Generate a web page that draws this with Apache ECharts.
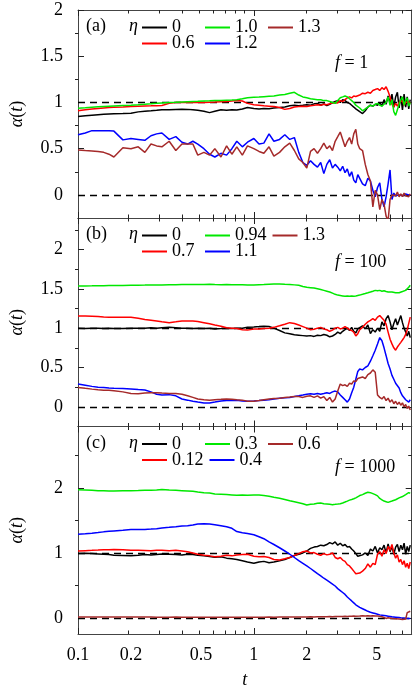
<!DOCTYPE html>
<html><head><meta charset="utf-8">
<script src="https://cdn.jsdelivr.net/npm/echarts@6/dist/echarts.min.js"></script>
<style>html,body{margin:0;padding:0;background:#fff}#c{width:415px;height:691px}</style>
</head><body><div id="c"></div>
<script>
// ---------- data ----------
const t = [
0.1,0.11,0.12,0.13,0.14,0.15,0.16,0.18,0.2,0.22,
0.24,0.26,0.28,0.3,0.33,0.36,0.39,0.42,0.45,0.48,
0.52,0.56,0.6,0.65,0.7,0.75,0.8,0.86,0.92,1.0,
1.07,1.14,1.22,1.3,1.4,1.5,1.6,1.7,1.8,1.9,
2.0,2.1,2.2,2.3,2.4,2.5,2.6,2.7,2.8,2.9,
3.0,3.1,3.2,3.3,3.4,3.5,3.6,3.7,3.8,3.9,
4.0,4.15,4.3,4.45,4.6,4.75,4.9,5.05,5.2,5.35,
5.5,5.65,5.8,5.95,6.1,6.25,6.4,6.55,6.7,6.85,
7.0,7.15,7.3,7.45,7.6,7.75];

const etaA = ['0','0.6','1.0','1.2','1.3'];
const etaB = ['0','0.7','0.94','1.1','1.3'];
const etaC = ['0','0.12','0.3','0.4','0.6'];

// panel (a), f = 1
const a_0 = [
0.847,0.855,0.862,0.868,0.873,0.876,0.878,0.88,0.883,0.898,
0.905,0.91,0.915,0.92,0.922,0.925,0.927,0.925,0.92,0.915,
0.905,0.89,0.905,0.92,0.915,0.92,0.918,0.93,0.945,0.935,
0.93,0.935,0.932,0.94,0.945,0.95,0.965,0.97,0.965,0.97,
0.975,0.97,0.985,0.99,0.97,0.985,0.965,0.98,0.995,1.01,
1.02,1.0,1.03,1.02,1.0,0.99,0.97,0.95,0.93,0.91,
0.9,0.88,0.91,0.95,0.97,0.96,0.98,0.97,1.0,0.96,
1.03,0.98,1.07,1.0,1.09,0.95,1.06,1.11,0.94,1.07,
0.92,1.09,0.95,1.06,0.93,1.03];
const a_06 = [
0.91,0.92,0.928,0.935,0.94,0.944,0.947,0.95,0.955,0.958,
0.961,0.963,0.965,0.966,0.99,1.0,1.0,1.0,1.0,1.002,
1.0,1.003,1.005,1.008,1.01,1.015,1.02,1.015,0.99,0.975,
0.97,0.965,0.96,0.955,0.945,0.925,0.935,0.95,0.955,0.96,
0.955,0.965,0.97,0.975,0.97,0.98,0.975,0.985,0.995,1.0,
0.995,1.02,1.01,1.03,1.05,1.06,1.05,1.07,1.065,1.06,
1.08,1.1,1.095,1.11,1.1,1.13,1.14,1.15,1.13,1.16,
1.14,1.17,1.12,1.06,0.98,0.95,0.99,0.96,1.0,0.98,
1.02,0.97,1.0,0.98,1.01,0.99];
const a_10 = [
0.937,0.942,0.948,0.953,0.957,0.96,0.962,0.966,0.97,0.975,
0.98,0.985,0.99,0.995,1.0,1.002,1.005,1.008,1.01,1.012,
1.015,1.017,1.02,1.022,1.025,1.027,1.03,1.04,1.05,1.056,
1.058,1.062,1.066,1.07,1.08,1.085,1.1,1.11,1.08,1.06,
1.05,1.04,1.035,1.03,1.03,1.02,1.02,1.01,1.0,0.99,
1.02,1.05,1.06,1.07,1.06,1.04,1.02,1.0,0.97,0.95,
0.94,0.91,0.93,0.95,0.97,0.96,0.98,0.99,0.97,0.96,
0.98,1.0,1.06,0.97,1.03,0.9,0.86,0.92,0.98,1.03,
1.06,0.97,1.02,1.05,0.96,1.0];
const a_12 = [
0.65,0.67,0.695,0.695,0.695,0.695,0.69,0.595,0.61,0.6,
0.59,0.64,0.66,0.67,0.6,0.63,0.57,0.55,0.58,0.55,
0.5,0.44,0.41,0.45,0.43,0.5,0.58,0.52,0.57,0.61,
0.55,0.56,0.66,0.58,0.6,0.65,0.6,0.62,0.46,0.35,
0.32,0.37,0.33,0.3,0.35,0.23,0.33,0.38,0.29,0.33,
0.3,0.26,0.31,0.24,0.28,0.2,0.25,0.16,0.13,0.22,
0.24,0.12,0.1,0.18,0.15,0.05,-0.02,0.08,0.13,-0.05,
-0.13,-0.02,0.12,0.27,-0.05,0.02,-0.01,0.01,0.0,0.01,
-0.01,0.0,0.01,-0.01,0.0,0.0];
const a_13 = [
0.486,0.48,0.475,0.47,0.46,0.44,0.41,0.51,0.5,0.52,
0.46,0.55,0.53,0.52,0.58,0.48,0.55,0.55,0.55,0.43,
0.46,0.43,0.5,0.41,0.53,0.44,0.52,0.43,0.53,0.5,
0.47,0.45,0.52,0.42,0.46,0.52,0.56,0.48,0.39,0.35,
0.29,0.47,0.5,0.45,0.5,0.56,0.5,0.53,0.48,0.58,
0.63,0.68,0.6,0.52,0.58,0.62,0.55,0.66,0.71,0.55,
0.5,0.48,0.33,0.22,0.15,-0.13,0.05,0.0,-0.16,-0.05,
-0.1,-0.23,-0.28,-0.05,0.0,0.02,-0.01,0.03,-0.02,0.01,
-0.02,0.02,-0.01,0.01,-0.02,0.01];

// panel (b), f = 100
const b_0 = [
1.0,0.995,1.0,0.998,0.995,1.0,0.997,0.995,1.0,0.998,
1.0,1.005,1.0,1.005,1.01,1.005,1.0,1.0,0.995,1.0,
0.995,1.0,0.99,0.995,1.0,0.995,1.0,1.0,1.01,1.015,
1.02,1.025,1.02,1.0,0.97,0.94,0.93,0.915,0.91,0.905,
0.9,0.905,0.895,0.91,0.905,0.92,0.91,0.89,0.9,0.92,
0.95,0.93,0.96,0.98,1.0,0.97,1.01,0.96,0.94,0.99,
1.0,1.03,0.99,1.04,0.93,0.98,0.95,1.0,0.96,1.08,
1.03,1.12,1.16,1.08,0.98,1.06,1.12,1.04,1.1,1.16,
1.07,1.0,0.95,0.9,0.96,0.88];
const b_07 = [
1.155,1.153,1.15,1.147,1.143,1.14,1.14,1.14,1.138,1.125,
1.11,1.1,1.09,1.08,1.07,1.08,1.09,1.09,1.09,1.085,
1.07,1.055,1.04,1.025,1.005,1.0,0.995,0.98,0.975,0.99,
0.99,0.995,1.0,1.01,1.03,1.05,1.07,1.06,1.04,1.02,
1.0,0.98,0.985,1.0,1.01,0.99,0.98,0.96,0.975,1.0,
1.01,0.99,1.0,1.02,1.0,0.98,0.97,0.95,0.9,0.93,
0.98,1.01,1.05,1.08,1.1,1.12,1.1,1.14,1.16,1.13,
1.1,1.05,0.95,0.86,0.8,0.75,0.72,0.76,0.79,0.82,
0.85,0.88,0.92,0.98,1.06,1.14];
const b_094 = [
1.536,1.537,1.538,1.54,1.54,1.541,1.542,1.543,1.545,1.546,
1.547,1.548,1.55,1.55,1.552,1.553,1.555,1.556,1.556,1.555,
1.556,1.557,1.555,1.553,1.554,1.552,1.553,1.552,1.55,1.55,
1.553,1.555,1.558,1.56,1.562,1.558,1.555,1.55,1.545,1.53,
1.52,1.515,1.51,1.5,1.49,1.48,1.47,1.46,1.445,1.43,
1.42,1.415,1.41,1.405,1.41,1.405,1.41,1.405,1.41,1.415,
1.42,1.43,1.44,1.45,1.46,1.47,1.48,1.475,1.48,1.47,
1.475,1.465,1.46,1.47,1.46,1.455,1.45,1.455,1.45,1.46,
1.465,1.47,1.48,1.5,1.52,1.545];
const b_11 = [
0.29,0.275,0.26,0.25,0.245,0.24,0.236,0.232,0.228,0.22,
0.215,0.19,0.16,0.15,0.155,0.14,0.1,0.085,0.07,0.06,
0.05,0.048,0.06,0.075,0.08,0.08,0.085,0.075,0.07,0.075,
0.08,0.085,0.09,0.1,0.11,0.115,0.12,0.13,0.14,0.15,
0.16,0.165,0.16,0.17,0.16,0.17,0.18,0.17,0.19,0.2,
0.19,0.15,0.12,0.09,0.06,0.1,0.18,0.25,0.35,0.45,
0.48,0.47,0.5,0.52,0.58,0.65,0.72,0.8,0.88,0.84,
0.75,0.65,0.55,0.48,0.4,0.35,0.3,0.28,0.24,0.18,
0.14,0.12,0.09,0.07,0.06,0.09];
const b_13 = [
0.246,0.235,0.225,0.218,0.212,0.21,0.205,0.19,0.17,0.165,
0.175,0.18,0.18,0.175,0.17,0.17,0.16,0.14,0.12,0.1,
0.09,0.085,0.09,0.095,0.1,0.095,0.09,0.085,0.07,0.07,
0.08,0.09,0.1,0.105,0.11,0.12,0.125,0.13,0.13,0.12,
0.135,0.14,0.12,0.14,0.11,0.13,0.08,0.12,0.06,0.1,
0.2,0.29,0.27,0.28,0.26,0.3,0.29,0.33,0.32,0.36,
0.35,0.38,0.36,0.41,0.43,0.47,0.44,0.15,0.12,0.1,
0.13,0.08,0.11,0.06,0.09,0.04,0.07,0.03,0.06,0.02,
0.05,0.0,0.03,-0.02,0.01,-0.04];

// panel (c), f = 1000
const c_0 = [
0.99,0.995,0.99,0.985,0.98,0.975,0.965,0.96,0.955,0.965,
0.975,0.97,0.975,0.985,0.98,0.975,0.97,0.98,0.975,0.965,
0.955,0.945,0.935,0.94,0.92,0.91,0.9,0.88,0.86,0.84,
0.86,0.87,0.85,0.86,0.88,0.9,0.93,0.96,0.98,1.0,
1.03,1.07,1.09,1.1,1.12,1.11,1.13,1.16,1.14,1.17,
1.12,1.15,1.11,1.13,1.09,1.1,1.06,1.03,0.99,0.95,
0.94,0.97,1.0,0.96,1.06,1.03,1.1,1.0,1.08,1.05,
1.12,1.0,1.14,1.02,1.1,0.98,1.09,1.13,1.02,1.12,
1.05,1.15,0.98,1.1,1.02,1.12];
const c_012 = [
1.03,1.035,1.04,1.045,1.05,1.05,1.052,1.05,1.04,1.04,
1.038,1.035,1.04,1.04,1.035,1.04,1.03,1.02,1.0,0.98,
0.965,0.955,0.94,0.95,0.965,0.955,0.97,0.975,0.98,0.95,
0.94,0.945,0.93,0.9,0.89,0.91,0.93,0.96,0.99,1.02,
1.03,1.0,1.005,0.98,0.965,0.99,0.97,0.98,1.0,0.93,
0.91,0.93,0.89,0.87,0.82,0.8,0.76,0.72,0.68,0.66,
0.69,0.72,0.76,0.83,0.78,0.84,0.82,0.98,1.02,0.95,
1.05,0.99,1.1,1.04,1.13,1.0,0.92,0.97,0.86,0.9,
0.82,0.88,0.78,0.84,0.76,0.86];
const c_03 = [
1.975,1.97,1.965,1.96,1.958,1.956,1.955,1.958,1.96,1.962,
1.965,1.965,1.97,1.98,1.97,1.965,1.96,1.955,1.95,1.94,
1.93,1.925,1.91,1.905,1.9,1.895,1.89,1.892,1.89,1.895,
1.893,1.885,1.875,1.86,1.845,1.825,1.805,1.79,1.775,1.76,
1.74,1.75,1.755,1.765,1.77,1.76,1.755,1.75,1.745,1.75,
1.755,1.76,1.77,1.785,1.8,1.815,1.825,1.835,1.85,1.865,
1.885,1.9,1.92,1.935,1.93,1.915,1.9,1.88,1.84,1.82,
1.8,1.79,1.78,1.79,1.8,1.81,1.82,1.83,1.85,1.86,
1.87,1.89,1.9,1.92,1.93,1.92];
const c_04 = [
1.288,1.295,1.305,1.315,1.325,1.333,1.34,1.35,1.36,1.36,
1.362,1.368,1.374,1.385,1.395,1.405,1.415,1.418,1.43,1.445,
1.45,1.445,1.435,1.42,1.405,1.38,1.33,1.31,1.3,1.28,
1.25,1.22,1.17,1.13,1.08,1.03,0.98,0.93,0.88,0.84,
0.8,0.76,0.72,0.68,0.645,0.61,0.58,0.55,0.52,0.49,
0.45,0.42,0.39,0.36,0.32,0.29,0.26,0.23,0.2,0.18,
0.16,0.14,0.12,0.1,0.085,0.075,0.065,0.055,0.045,0.04,
0.035,0.03,0.025,0.02,0.015,0.012,0.01,0.008,0.005,0.0,
-0.005,-0.005,-0.008,-0.01,-0.01,-0.01];
const c_06 = [
0.012,0.012,0.011,0.012,0.012,0.011,0.012,0.012,0.011,0.012,
0.012,0.011,0.01,0.01,0.01,0.011,0.01,0.01,0.01,0.009,
0.01,0.01,0.009,0.01,0.01,0.009,0.01,0.01,0.01,0.009,
0.01,0.01,0.011,0.01,0.012,0.011,0.012,0.013,0.012,0.014,
0.013,0.015,0.014,0.016,0.015,0.017,0.016,0.018,0.017,0.02,
0.018,0.021,0.02,0.022,0.021,0.024,0.022,0.026,0.024,0.028,
0.026,0.03,0.027,0.031,0.028,0.03,0.026,0.028,0.022,0.015,
0.005,-0.01,0.0,-0.02,-0.01,-0.03,-0.015,-0.035,-0.02,-0.04,
-0.025,-0.045,-0.02,0.08,0.11,0.1];

// axis ticks
const xLabelValues = [0.1, 0.2, 0.5, 1, 2, 5];
const xMajorTicks = [0.1, 1];
const xMinorTicks = [0.2,0.3,0.4,0.5,0.6,0.7,0.8,0.9,2,3,4,5,6,7];
const yMajorA = [0, 0.5, 1, 1.5, 2];
const yMinorA = [0.25, 0.75, 1.25, 1.75];
const yMajorB = [0, 0.5, 1, 1.5, 2];
const yMinorB = [0.25, 0.75, 1.25, 1.75, 2.25];
const yMajorC = [0, 1, 2];
const yMinorC = [0.5, 1.5, 2.5];
const refLines = [0, 1];

// ---------- layout / style ----------
const FONT = '"Liberation Serif", "DejaVu Serif", serif';
const FS = 18;
const COLORS = ['#000000', '#ff0000', '#00e800', '#0000ff', '#a52a2a'];
const L = 75, W = 336.7;
const panels = [
  {tag: 'a', names: etaA, data: [a_0, a_06, a_10, a_12, a_13], ymin: -0.25, ymax: 2,    major: yMajorA, minor: yMinorA, top: 10,    height: 208,   f: '1',    fTop: 64},
  {tag: 'b', names: etaB, data: [b_0, b_07, b_094, b_11, b_13], ymin: -0.25, ymax: 2.4,  major: yMajorB, minor: yMinorB, top: 218,   height: 208.5, f: '100',  fTop: 263},
  {tag: 'c', names: etaC, data: [c_0, c_012, c_03, c_04, c_06], ymin: -0.25, ymax: 2.95, major: yMajorC, minor: yMinorC, top: 426.5, height: 207.5, f: '1000', fTop: 468}
];

const option = {animation: false, backgroundColor: '#fff', grid: [], xAxis: [], yAxis: [], series: [], legend: [], graphic: []};
const axLine = {show: true, onZero: false, lineStyle: {color: '#444', width: 1}};
const noLine = {show: false, onZero: false};
const tickStyle = {color: '#222', width: 1};

panels.forEach((p, i) => {
  const last = i === 2;
  const g0 = 2 * i, g1 = 2 * i + 1;
  option.grid.push({left: L, top: p.top, width: W, height: p.height});
  option.grid.push({left: L, top: p.top, width: W, height: p.height});
  const xb = {type: 'log', logBase: 10, min: 0.1, max: 7.9, splitLine: {show: false}, minorTick: {show: false}};
  option.xAxis.push(Object.assign({}, xb, {
    gridIndex: g0, position: 'bottom', axisLine: axLine,
    axisTick: {show: true, inside: true, length: 6, customValues: xMajorTicks, lineStyle: tickStyle},
    axisLabel: last ? {show: true, customValues: xLabelValues, margin: 12, fontFamily: FONT, fontSize: FS, color: '#000',
      formatter: v => String(+Number(v).toPrecision(3))} : {show: false},
    name: last ? 't' : '', nameLocation: 'middle', nameGap: 37,
    nameTextStyle: {fontFamily: FONT, fontSize: FS, fontStyle: 'italic', color: '#000'}
  }));
  option.xAxis.push(Object.assign({}, xb, {
    gridIndex: g0, position: 'top', axisLine: axLine,
    axisTick: {show: true, inside: true, length: 6, customValues: xMajorTicks, lineStyle: tickStyle},
    axisLabel: {show: false}
  }));
  option.xAxis.push(Object.assign({}, xb, {
    gridIndex: g1, position: 'bottom', axisLine: noLine,
    axisTick: {show: true, inside: true, length: 3.5, customValues: xMinorTicks, lineStyle: tickStyle},
    axisLabel: {show: false}
  }));
  option.xAxis.push(Object.assign({}, xb, {
    gridIndex: g1, position: 'top', axisLine: noLine,
    axisTick: {show: true, inside: true, length: 3.5, customValues: xMinorTicks, lineStyle: tickStyle},
    axisLabel: {show: false}
  }));
  const yb = {type: 'value', min: p.ymin, max: p.ymax, splitLine: {show: false}};
  option.yAxis.push(Object.assign({}, yb, {
    gridIndex: g0, position: 'left', axisLine: axLine,
    axisTick: {show: true, inside: true, length: 6, customValues: p.major, lineStyle: tickStyle},
    axisLabel: {show: true, customValues: p.major, margin: 15, fontFamily: FONT, fontSize: FS, color: '#000',
      formatter: v => String(+Number(v).toPrecision(3))},
    name: '{i|α}{n|(}{i|t}{n|)}', nameLocation: 'middle', nameGap: 52, nameRotate: 90,
    nameTextStyle: {fontFamily: FONT, fontSize: FS, color: '#000',
      rich: {i: {fontFamily: FONT, fontSize: FS, fontStyle: 'italic', color: '#000'}, n: {fontFamily: FONT, fontSize: FS, color: '#000'}}}
  }));
  option.yAxis.push(Object.assign({}, yb, {
    gridIndex: g0, position: 'right', axisLine: axLine,
    axisTick: {show: true, inside: true, length: 6, customValues: p.major, lineStyle: tickStyle},
    axisLabel: {show: false}
  }));
  option.yAxis.push(Object.assign({}, yb, {
    gridIndex: g1, position: 'left', axisLine: noLine,
    axisTick: {show: true, inside: true, length: 3.5, customValues: p.minor, lineStyle: tickStyle},
    axisLabel: {show: false}
  }));
  option.yAxis.push(Object.assign({}, yb, {
    gridIndex: g1, position: 'right', axisLine: noLine,
    axisTick: {show: true, inside: true, length: 3.5, customValues: p.minor, lineStyle: tickStyle},
    axisLabel: {show: false}
  }));

  p.data.forEach((arr, k) => {
    const s = {
      type: 'line', name: p.tag + ':' + p.names[k], xAxisIndex: 4 * i, yAxisIndex: 4 * i,
      data: t.map((x, j) => [x, arr[j]]), showSymbol: false, symbol: 'none',
      lineStyle: {color: COLORS[k], width: 1.5}, itemStyle: {color: COLORS[k]}, z: 3 + k
    };
    if (k === 0) {
      s.markLine = {silent: true, symbol: ['none', 'none'], label: {show: false}, z: 2,
        lineStyle: {color: '#000', type: [7, 5], width: 1.3},
        data: refLines.map(v => ({yAxis: v}))};
    }
    option.series.push(s);
  });

  const legBase = {orient: 'horizontal', left: 142, icon: 'rect', itemWidth: 25, itemHeight: 2, itemGap: 6, padding: 0,
    selectedMode: false, formatter: n => n.split(':')[1],
    textStyle: {fontFamily: FONT, fontSize: FS, color: '#000', width: 27, lineHeight: 16}};
  option.legend.push(Object.assign({}, legBase, {top: p.top + 8.5,
    data: [0, 2, 4].map(k => p.tag + ':' + p.names[k])}));
  option.legend.push(Object.assign({}, legBase, {top: p.top + 24.5,
    data: [1, 3].map(k => p.tag + ':' + p.names[k])}));

  option.graphic.push({type: 'text', left: 86, top: p.top + 7.5, silent: true,
    style: {text: '(' + p.tag + ')', fontFamily: FONT, fontSize: FS, fill: '#000'}});
  option.graphic.push({type: 'text', left: 129, top: p.top + 7.5, silent: true,
    style: {text: 'η', fontFamily: FONT, fontSize: FS, fontStyle: 'italic', fill: '#000'}});
  option.graphic.push({type: 'text', left: 335, top: p.fTop - 9.5, silent: true,
    style: {text: '{i|f} = ' + p.f, fontFamily: FONT, fontSize: FS, fill: '#000',
      rich: {i: {fontFamily: FONT, fontSize: FS, fontStyle: 'italic', fill: '#000'}}}});
});

const chart = echarts.init(document.getElementById('c'), null, {renderer: 'canvas'});
chart.setOption(option);
</script>
</body></html>
